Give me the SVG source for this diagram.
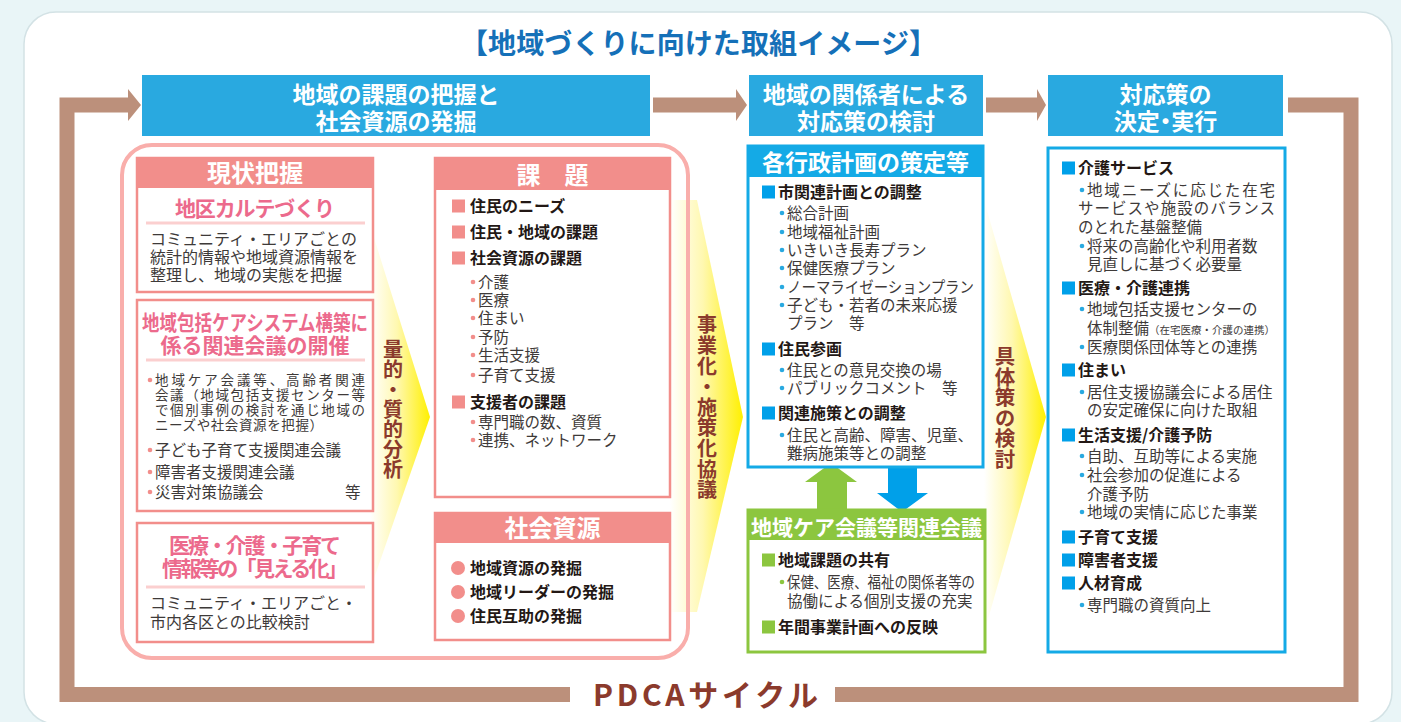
<svg xmlns="http://www.w3.org/2000/svg" width="1401" height="722" viewBox="0 0 1401 722">
<defs>
<style>
text{font-family:"Noto Sans CJK JP","Noto Sans",sans-serif}
.hw{fill:#fff;font-weight:700;font-size:23px;text-anchor:middle}
.ph{fill:#fff;font-weight:700;font-size:24px;text-anchor:middle}
.pk{fill:#ec6a8c;font-weight:700;font-size:21px;text-anchor:middle}
.tx{fill:#3e3a39;font-size:16px}
.sm{fill:#3e3a39;font-size:15.5px}
.sn{fill:#3e3a39;font-size:13.5px}
.bd{fill:#231815;font-weight:700;font-size:16px}
.vt{fill:#8b3a2c;font-weight:700;font-size:20px;text-anchor:middle;writing-mode:vertical-rl}
.pbox{fill:#fff;stroke:#f28e8b;stroke-width:2.5}
.phd{fill:#f28e8b}
.bbox{fill:#fff;stroke:#14aae6;stroke-width:3}
.gbox{fill:#fff;stroke:#8cc63f;stroke-width:3}
.pl{stroke:#fbcfcf;stroke-width:3}
.pdot{fill:#f28e8b}
.bdot{fill:#29a9e0}
.gdot{fill:#8cc63f}
.bsq{fill:#00a0e9}
.gsq{fill:#8cc63f}
.brown{fill:#bc907b}
</style>
<linearGradient id="yg" x1="0" y1="0" x2="1" y2="0">
<stop offset="0" stop-color="#ffffff"/>
<stop offset="0.45" stop-color="#fff8b0"/>
<stop offset="1" stop-color="#fff000"/>
</linearGradient>
</defs>
<rect x="0" y="0" width="1401" height="722" fill="#e9f5f7"/>
<rect x="24" y="12" width="1368" height="712" rx="32" fill="#fff" stroke="#d3e2e5" stroke-width="1.5"/>
<text x="460" y="53.5" textLength="477" style="font-size:28px;font-weight:700;fill:#1570b8">【地域づくりに向けた取組イメージ】</text>

<g id="connectors">
<path d="M129 105 H67 V694.5 H570" fill="none" stroke="#bc907b" stroke-width="15"/>
<path d="M835 694.5 H1351 V105 H1288" fill="none" stroke="#bc907b" stroke-width="15"/>
<polygon class="brown" points="128,89 141,105 128,121"/>
<rect class="brown" x="653" y="97.5" width="84" height="15"/>
<polygon class="brown" points="736,89 747,105 736,121"/>
<rect class="brown" x="986" y="97.5" width="52" height="15"/>
<polygon class="brown" points="1037,89 1046,105 1037,121"/>
<polygon fill="url(#yg)" points="370,225 430,417 370,590"/>
<polygon fill="url(#yg)" points="670,200 697,200 743,417 697,612 670,612"/>
<polygon fill="url(#yg)" points="984,200 1046,417 984,633"/>
<polygon fill="#8cc63f" points="817,510 817,482 805,482 831,463 857,482 847,482 847,510"/>
<polygon fill="#00a0e9" points="888,467 917,467 917,493 928,493 902,512 877,493 888,493"/>
</g>

<text x="593" y="706" textLength="225" style="font-size:30px;font-weight:700;fill:#8b3a2c">PDCAサイクル</text>

<g id="head1">
<rect x="142" y="75" width="508" height="61" fill="#29a9e0"/>
<text class="hw" x="396" y="103">地域の課題の把握と</text>
<text class="hw" x="396" y="130">社会資源の発掘</text>
</g>
<g id="head2">
<rect x="749" y="75" width="234" height="61" fill="#29a9e0"/>
<text class="hw" x="866" y="103">地域の関係者による</text>
<text class="hw" x="866" y="130">対応策の検討</text>
</g>
<g id="head3">
<rect x="1048" y="75" width="235" height="61" fill="#29a9e0"/>
<text class="hw" x="1165.5" y="103">対応策の</text>
<text class="hw" x="1165.5" y="130" style="font-feature-settings:'palt'">決定・実行</text>
</g>

<rect id="container" x="122" y="145" width="566" height="513" rx="30" fill="none" stroke="#f9aeab" stroke-width="4"/>

<g id="genjo">
<rect class="pbox" x="137" y="158" width="236" height="134"/>
<rect class="phd" x="137" y="158" width="236" height="30"/>
<text class="ph" x="255" y="181.5">現状把握</text>
<text class="pk" x="255" y="215.5" textLength="160">地区カルテづくり</text>
<line class="pl" x1="146" y1="223" x2="365" y2="223"/>
<text class="tx" x="150" y="245">コミュニティ・エリアごとの</text>
<text class="tx" x="150" y="263">統計的情報や地域資源情報を</text>
<text class="tx" x="150" y="281">整理し、地域の実態を把握</text>
</g>

<g id="kaigi">
<rect class="pbox" x="137" y="300" width="236" height="211"/>
<text class="pk" x="255" y="329.5" textLength="226" lengthAdjust="spacingAndGlyphs">地域包括ケアシステム構築に</text>
<text class="pk" x="255" y="352.5">係る関連会議の開催</text>
<line class="pl" x1="146" y1="360" x2="365" y2="360"/>
<circle class="pdot" cx="150" cy="380" r="2.3"/>
<text class="sn" x="155" y="385" textLength="210">地域ケア会議等、高齢者関連</text>
<text class="sn" x="155" y="400" textLength="210">会議（地域包括支援センター等</text>
<text class="sn" x="155" y="414.5" textLength="210">で個別事例の検討を通じ地域の</text>
<text class="sn" x="155" y="429.5" textLength="168">ニーズや社会資源を把握）</text>
<circle class="pdot" cx="150" cy="450" r="2.3"/>
<text class="sm" x="155" y="455.5">子ども子育て支援関連会議</text>
<circle class="pdot" cx="150" cy="472" r="2.3"/>
<text class="sm" x="155" y="477.5">障害者支援関連会議</text>
<circle class="pdot" cx="150" cy="492" r="2.3"/>
<text class="sm" x="155" y="497.5">災害対策協議会<tspan x="345">等</tspan></text>
</g>

<g id="mieruka">
<rect class="pbox" x="137" y="523" width="236" height="119"/>
<text class="pk" x="255" y="552.5" textLength="172">医療・介護・子育て</text>
<text class="pk" x="255" y="575.5" textLength="186">情報等の「見える化」</text>
<line class="pl" x1="146" y1="587" x2="365" y2="587"/>
<text class="tx" x="150" y="609">コミュニティ・エリアごと・</text>
<text class="tx" x="150" y="628">市内各区との比較検討</text>
</g>

<text class="vt" x="393" y="409">量的・質的分析</text>

<g id="kadai">
<rect class="pbox" x="435" y="158" width="235" height="339"/>
<rect class="phd" x="435" y="158" width="235" height="32"/>
<text class="ph" x="552.5" y="183.5">課　題</text>
<rect class="phd" x="452" y="199.5" width="13" height="13"/>
<text class="bd" x="470" y="212">住民のニーズ</text>
<rect class="phd" x="452" y="225.5" width="13" height="13"/>
<text class="bd" x="470" y="238">住民・地域の課題</text>
<rect class="phd" x="452" y="251.5" width="13" height="13"/>
<text class="bd" x="470" y="264">社会資源の課題</text>
<circle class="pdot" cx="473" cy="282" r="2.3"/><text class="sm" x="478" y="287.5">介護</text>
<circle class="pdot" cx="473" cy="300" r="2.3"/><text class="sm" x="478" y="305.5">医療</text>
<circle class="pdot" cx="473" cy="318" r="2.3"/><text class="sm" x="478" y="323.5">住まい</text>
<circle class="pdot" cx="473" cy="337" r="2.3"/><text class="sm" x="478" y="342.5">予防</text>
<circle class="pdot" cx="473" cy="355" r="2.3"/><text class="sm" x="478" y="360.5">生活支援</text>
<circle class="pdot" cx="473" cy="375" r="2.3"/><text class="sm" x="478" y="380.5">子育て支援</text>
<rect class="phd" x="452" y="395.5" width="13" height="13"/>
<text class="bd" x="470" y="408">支援者の課題</text>
<circle class="pdot" cx="473" cy="422" r="2.3"/><text class="sm" x="478" y="427.5">専門職の数、資質</text>
<circle class="pdot" cx="473" cy="440" r="2.3"/><text class="sm" x="478" y="445.5">連携、ネットワーク</text>
</g>

<g id="shigen">
<rect class="pbox" x="435" y="513" width="235" height="127"/>
<rect class="phd" x="435" y="513" width="235" height="30"/>
<text class="ph" x="552.5" y="536.5">社会資源</text>
<circle class="pdot" cx="458" cy="568" r="7"/><text class="bd" x="470" y="574">地域資源の発掘</text>
<circle class="pdot" cx="458" cy="592" r="7"/><text class="bd" x="470" y="598">地域リーダーの発掘</text>
<circle class="pdot" cx="458" cy="616" r="7"/><text class="bd" x="470" y="622">住民互助の発掘</text>
</g>

<text class="vt" x="707" y="407.5" style="letter-spacing:0.6px">事業化・施策化協議</text>

<g id="gyosei">
<rect class="bbox" x="748" y="146" width="235" height="321"/>
<rect fill="#14aae6" x="748" y="146" width="235" height="31"/>
<text class="hw" x="865.5" y="170.5">各行政計画の策定等</text>
<rect class="bsq" x="762" y="185.5" width="13" height="13"/>
<text class="bd" x="778" y="198">市関連計画との調整</text>
<circle class="bdot" cx="782" cy="213" r="2.3"/><text class="sm" x="787" y="218.5">総合計画</text>
<circle class="bdot" cx="782" cy="232" r="2.3"/><text class="sm" x="787" y="237.5">地域福祉計画</text>
<circle class="bdot" cx="782" cy="250" r="2.3"/><text class="sm" x="787" y="255.5">いきいき長寿プラン</text>
<circle class="bdot" cx="782" cy="268" r="2.3"/><text class="sm" x="787" y="273.5">保健医療プラン</text>
<circle class="bdot" cx="782" cy="287" r="2.3"/><text class="sm" x="787" y="292.5" textLength="187" lengthAdjust="spacingAndGlyphs">ノーマライゼーションプラン</text>
<circle class="bdot" cx="782" cy="305" r="2.3"/><text class="sm" x="787" y="310.5">子ども・若者の未来応援</text>
<text class="sm" x="787" y="328.5">プラン　等</text>
<rect class="bsq" x="762" y="342.5" width="13" height="13"/>
<text class="bd" x="778" y="355">住民参画</text>
<circle class="bdot" cx="782" cy="370" r="2.3"/><text class="sm" x="787" y="375.5">住民との意見交換の場</text>
<circle class="bdot" cx="782" cy="388" r="2.3"/><text class="sm" x="787" y="393.5">パブリックコメント　等</text>
<rect class="bsq" x="762" y="406.5" width="13" height="13"/>
<text class="bd" x="778" y="419">関連施策との調整</text>
<circle class="bdot" cx="782" cy="435" r="2.3"/><text class="sm" x="787" y="440.5">住民と高齢、障害、児童、</text>
<text class="sm" x="787" y="458.5">難病施策等との調整</text>
</g>

<g id="chiikicare">
<rect class="gbox" x="748" y="510" width="237" height="142"/>
<rect fill="#8cc63f" x="748" y="510" width="237" height="30"/>
<text class="hw" x="866.5" y="534.5" style="font-size:21px">地域ケア会議等関連会議</text>
<rect class="gsq" x="762" y="553.5" width="13" height="13"/>
<text class="bd" x="778" y="566">地域課題の共有</text>
<circle class="gdot" cx="782" cy="582" r="2.3"/><text class="sm" x="787" y="587.5" textLength="188" lengthAdjust="spacingAndGlyphs">保健、医療、福祉の関係者等の</text>
<text class="sm" x="787" y="606.5">協働による個別支援の充実</text>
<rect class="gsq" x="762" y="620.5" width="13" height="13"/>
<text class="bd" x="778" y="633">年間事業計画への反映</text>
</g>

<text class="vt" x="1005" y="407.5" style="font-size:20.5px">具体策の検討</text>

<g id="taiosaku">
<rect class="bbox" x="1048" y="148" width="237" height="504"/>
<rect class="bsq" x="1062" y="161.5" width="13" height="13"/>
<text class="bd" x="1078" y="174">介護サービス</text>
<circle class="bdot" cx="1082" cy="190" r="2.3"/><text class="sm" x="1087" y="195.5" textLength="188">地域ニーズに応じた在宅</text>
<text class="sm" x="1078" y="213.5" textLength="197">サービスや施設のバランス</text>
<text class="sm" x="1078" y="232.5">のとれた基盤整備</text>
<circle class="bdot" cx="1082" cy="246" r="2.3"/><text class="sm" x="1087" y="251.5">将来の高齢化や利用者数</text>
<text class="sm" x="1087" y="269.5">見直しに基づく必要量</text>
<rect class="bsq" x="1062" y="281.5" width="13" height="13"/>
<text class="bd" x="1078" y="294">医療・介護連携</text>
<circle class="bdot" cx="1082" cy="309" r="2.3"/><text class="sm" x="1087" y="314.5">地域包括支援センターの</text>
<text class="sm" x="1087" y="333.5">体制整備<tspan style="font-size:10.5px">（在宅医療・介護の連携）</tspan></text>
<circle class="bdot" cx="1082" cy="347" r="2.3"/><text class="sm" x="1087" y="352.5">医療関係団体等との連携</text>
<rect class="bsq" x="1062" y="363.5" width="13" height="13"/>
<text class="bd" x="1078" y="376">住まい</text>
<circle class="bdot" cx="1082" cy="392" r="2.3"/><text class="sm" x="1087" y="397.5">居住支援協議会による居住</text>
<text class="sm" x="1087" y="415.5">の安定確保に向けた取組</text>
<rect class="bsq" x="1062" y="428.5" width="13" height="13"/>
<text class="bd" x="1078" y="441">生活支援/介護予防</text>
<circle class="bdot" cx="1082" cy="456" r="2.3"/><text class="sm" x="1087" y="461.5">自助、互助等による実施</text>
<circle class="bdot" cx="1082" cy="475" r="2.3"/><text class="sm" x="1087" y="480.5">社会参加の促進による</text>
<text class="sm" x="1087" y="499.5">介護予防</text>
<circle class="bdot" cx="1082" cy="512" r="2.3"/><text class="sm" x="1087" y="517.5">地域の実情に応じた事業</text>
<rect class="bsq" x="1062" y="530.5" width="13" height="13"/>
<text class="bd" x="1078" y="543">子育て支援</text>
<rect class="bsq" x="1062" y="553.5" width="13" height="13"/>
<text class="bd" x="1078" y="566">障害者支援</text>
<rect class="bsq" x="1062" y="576.5" width="13" height="13"/>
<text class="bd" x="1078" y="589">人材育成</text>
<circle class="bdot" cx="1082" cy="605" r="2.3"/><text class="sm" x="1087" y="610.5">専門職の資質向上</text>
</g>
</svg>
